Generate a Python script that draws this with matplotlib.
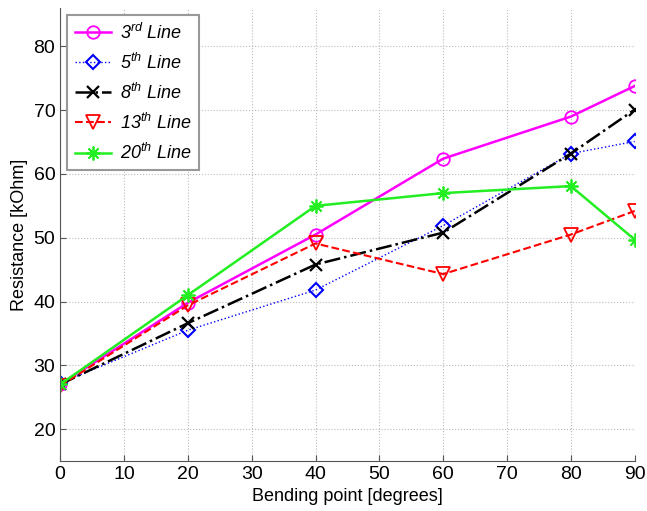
import matplotlib
matplotlib.use('Agg')
import matplotlib.pyplot as plt

plt.rcParams['font.family'] = ['Liberation Sans', 'DejaVu Sans']
plt.rcParams['mathtext.fontset'] = 'custom'
plt.rcParams['mathtext.it'] = 'Liberation Sans:italic'
plt.rcParams['mathtext.rm'] = 'Liberation Sans'

# bending points (degrees)
bend = [0, 20, 40, 60, 80, 90]

# resistance (kOhm)
line3 = [27.0, 39.8, 50.5, 62.4, 69.0, 73.8]
line5 = [27.2, 35.5, 41.8, 51.9, 63.2, 65.1]
line8 = [27.0, 36.6, 45.8, 50.8, 63.2, 70.1]
line13 = [26.8, 39.4, 49.1, 44.3, 50.5, 54.2]
line20 = [27.0, 41.0, 55.0, 57.0, 58.1, 49.7]

labels = ['3$^{rd}$ Line', '5$^{th}$ Line', '8$^{th}$ Line',
          '13$^{th}$ Line', '20$^{th}$ Line']

fig = plt.figure(figsize=(6.47, 5.11), dpi=100)
ax = fig.add_axes([0.093, 0.098, 0.888, 0.886])

ax.plot(bend, line3, color='#ff00ff', lw=1.8, marker='o', ms=9, mfc='none', mew=1.3, label=labels[0])
ax.plot(bend, line5, color='#0000ff', lw=1.0, ls=':', marker='D', ms=7, mfc='none', mew=1.5, label=labels[1])
ax.plot(bend, line8, color='black', lw=1.8, ls='-.', marker='x', ms=9, mew=1.6, label=labels[2])
ax.plot(bend, line13, color='#ff0000', lw=1.5, ls='--', marker='v', ms=10, mfc='none', mew=1.3, label=labels[3])
# matlab-style asterisk marker
ax.plot(bend, line20, color='#22ee22', lw=1.8, marker=(8, 2, 0), ms=10, mew=1.3, label=labels[4])

ax.set_xlim(0, 90)
ax.set_ylim(15, 86)
ax.set_xticks(range(0, 91, 10))
ax.set_yticks(range(20, 81, 10))
ax.tick_params(direction='in', labelsize=14, length=4, color='#555555')
ax.grid(True, ls=':', color='#bbbbbb', lw=0.8)
ax.spines['top'].set_visible(False)
ax.spines['right'].set_visible(False)
for s in ['left', 'bottom']:
    ax.spines[s].set_color('#555555')

ax.set_xlabel('Bending point [degrees]', fontsize=13, labelpad=4)
ax.set_ylabel('Resistance [kOhm]', fontsize=13, labelpad=4)

leg = ax.legend(loc='upper left', prop={'style': 'italic', 'size': 13},
                fancybox=False, edgecolor='#999999', framealpha=1,
                handlelength=2.0, handletextpad=0.5, borderaxespad=0.4,
                labelspacing=0.55)
leg.get_frame().set_linewidth(1.5)

fig.savefig('out.png', dpi=100)
